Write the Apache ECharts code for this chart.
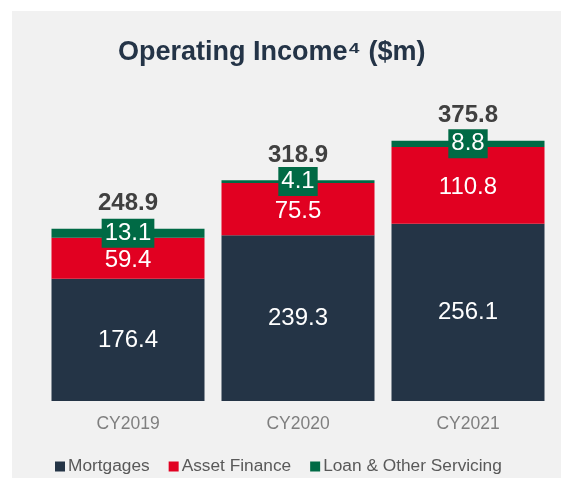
<!DOCTYPE html>
<html>
<head>
<meta charset="utf-8">
<script src="https://cdn.jsdelivr.net/npm/echarts@6/dist/echarts.min.js"></script>
<style>
  html, body { margin: 0; padding: 0; background: #ffffff; }
  #chart { width: 561px; height: 478px; }
</style>
</head>
<body>
<div id="chart"></div>
<script>
// data
const categories = ['CY2019', 'CY2020', 'CY2021'];
const mortgages = [176.4, 239.3, 256.1];
const assetFinance = [59.4, 75.5, 110.8];
const loanServicing = [13.1, 4.1, 8.8];
const totals = [248.9, 318.9, 375.8];

const font = 'Liberation Sans, Arial, sans-serif';

const chart = echarts.init(document.getElementById('chart'));

const options = {
  backgroundColor: '#ffffff',
  textStyle: { fontFamily: font },
  graphic: [
    {
      type: 'rect',
      z: -10,
      shape: { x: 12, y: 11, width: 560, height: 480 },
      style: { fill: '#f1f1f1' }
    }
  ],
  title: {
    text: 'Operating Income⁴ ($m)',
    left: 113,
    top: 34,
    textStyle: {
      fontFamily: font,
      fontSize: 27,
      fontWeight: 'bold',
      color: '#243447'
    }
  },
  legend: {
    data: ['Mortgages', 'Asset Finance', 'Loan & Other Servicing'],
    bottom: -2,
    left: 50,
    itemWidth: 10,
    itemHeight: 10,
    itemGap: 19,
    icon: 'rect',
    textStyle: { fontFamily: font, fontSize: 17.3, color: '#595959', padding: [0, 0, 0, -2] }
  },
  grid: {
    left: 43,
    right: 8,
    top: 124,
    bottom: 77
  },
  xAxis: {
    type: 'category',
    data: categories,
    axisLine: { show: false },
    axisTick: { show: false },
    axisLabel: { fontFamily: font, fontSize: 17.5, color: '#7f7f7f', margin: 14 }
  },
  yAxis: {
    type: 'value',
    min: 0,
    max: 400,
    show: false,
    splitLine: { show: false }
  },
  series: [
    {
      name: 'Mortgages',
      type: 'bar',
      stack: 'total',
      barCategoryGap: '10%',
      itemStyle: { color: '#243446' },
      label: { show: true, position: 'inside', color: '#ffffff', fontSize: 24, fontFamily: font },
      data: mortgages
    },
    {
      name: 'Asset Finance',
      type: 'bar',
      stack: 'total',
      itemStyle: { color: '#e10021' },
      label: { show: true, position: 'inside', offset: [0, 2], color: '#ffffff', fontSize: 24, fontFamily: font },
      data: assetFinance
    },
    {
      name: 'Loan & Other Servicing',
      type: 'bar',
      stack: 'total',
      itemStyle: { color: '#006a45' },
      label: {
        show: true,
        position: 'inside',
        color: '#ffffff',
        fontSize: 24,
        lineHeight: 24,
        fontFamily: font,
        backgroundColor: '#006a45',
        padding: [4, 3, 1, 3]
      },
      data: loanServicing
    },
    {
      name: 'Total',
      type: 'bar',
      stack: 'total',
      itemStyle: { color: 'transparent' },
      label: {
        show: true,
        position: 'top',
        distance: 13,
        color: '#404040',
        fontSize: 24,
        fontWeight: 'bold',
        fontFamily: font,
        formatter: (p) => totals[p.dataIndex].toFixed(1)
      },
      data: totals.map(() => 0)
    }
  ]
};

chart.setOption(options);

window.addEventListener('resize', () => {
  chart.resize();
});
</script>
</body>
</html>
